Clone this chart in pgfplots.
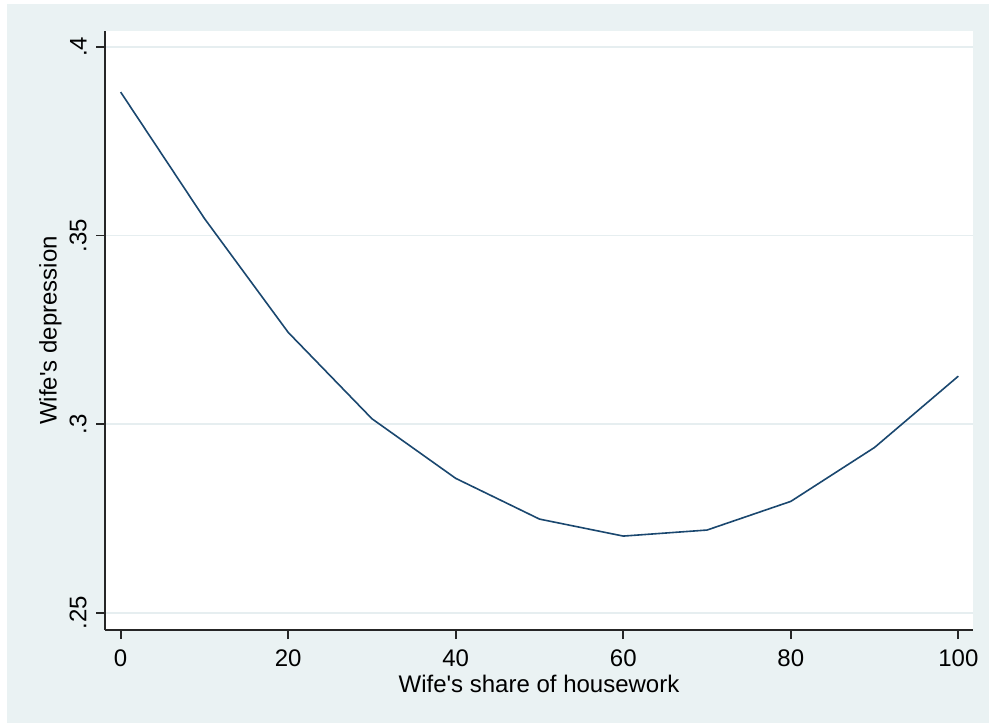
\documentclass[border=0pt]{standalone}
\usepackage{fontspec}
\setmainfont{Liberation Sans}
\usepackage{pgfplots}
\pgfplotsset{compat=1.18}
\definecolor{bgc}{HTML}{EAF2F3}
\definecolor{stblue}{HTML}{1A476F}
\definecolor{gridc}{HTML}{E6EEF0}
\begin{document}
\begin{tikzpicture}
\fill[white] (0pt,0pt) rectangle (494.5pt,362pt);
\fill[bgc] (3.5pt,0.5pt) rectangle (494.5pt,360pt);
\begin{axis}[
  at={(52.5pt,47pt)}, anchor=south west,
  scale only axis, width=434pt, height=299.5pt,
  xmin=-1.87, xmax=101.75, ymin=0.2454, ymax=0.4042,
  axis x line*=bottom, axis y line*=left,
  axis line style={line width=0.9pt, black!85, -},
  axis background/.style={fill=white},
  xtick={0,20,40,60,80,100}, xticklabels={0,20,40,60,80,100},
  ytick={0.25,0.3,0.35,0.4}, yticklabels={.25,.3,.35,.4},
  tick align=outside, major tick length=4.5pt,
  tick style={line width=0.9pt, black!85},
  minor tick num=0,
  ymajorgrids, grid style={gridc, line width=0.9pt},
  tick label style={font=\fontsize{12}{14}\selectfont, black},
  xticklabel style={anchor=north, inner sep=0pt},
  yticklabel style={rotate=90, anchor=south, inner sep=0pt},
  xticklabel shift=5pt, yticklabel shift=4.5pt,
  xlabel={Wife\textquotesingle s share of housework},
  ylabel={Wife\textquotesingle s depression},
  xlabel style={at={(axis description cs:0.5,-0.0751)}, anchor=north, inner sep=0pt, font=\fontsize{12}{14}\selectfont},
  ylabel style={at={(axis description cs:-0.0495,0.5)}, anchor=south, rotate=0, inner sep=0pt, font=\fontsize{12}{14}\selectfont},
  clip=false,
]
\addplot[stblue, line width=0.8pt, mark=none] coordinates {
(0,0.3880) (10,0.3545) (20,0.3243) (30,0.3014) (40,0.2856) (50,0.2748)
(60,0.2703) (70,0.2719) (80,0.2795) (90,0.2938) (100,0.3127)
};
\end{axis}
\end{tikzpicture}
\end{document}
